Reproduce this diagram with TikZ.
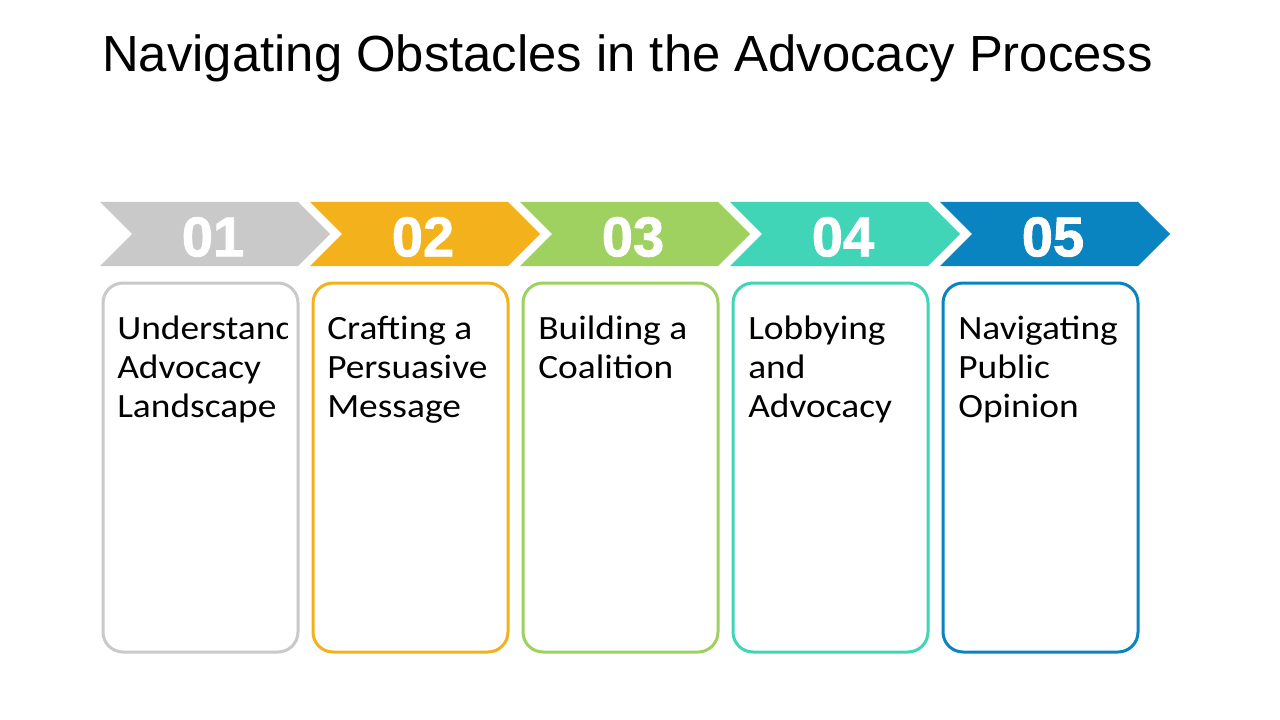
\documentclass[tikz,border=0pt]{standalone}
\usepackage{fontspec}
\setmainfont{Carlito}
\newfontfamily\boxfont[FakeStretch=1.1]{Carlito}
\newfontfamily\titlefont{Liberation Sans}
\newfontfamily\numfont[FakeBold=1.5]{Liberation Sans Bold}
\definecolor{cgray}{HTML}{C9C9C9}
\definecolor{cyellow}{HTML}{F3B11B}
\definecolor{cgreen}{HTML}{9ED160}
\definecolor{cteal}{HTML}{3FD5B6}
\definecolor{cblue}{HTML}{0A83C1}
\begin{document}
\begin{tikzpicture}[x=0.75pt,y=-0.75pt,
  numtext/.style={text=white, font=\numfont\fontsize{42}{42}\selectfont, inner sep=0pt},
  stepbox/.style={draw=#1, line width=3pt*0.75, rounded corners=15pt, fill=white},
  boxtext/.style={anchor=base west, align=left, inner sep=0pt, font=\boxfont\fontsize{25.5}{28.9}\selectfont}]
\useasboundingbox (0,0) rectangle (1280,720);
\fill[white] (0,0) rectangle (1280,720);
\node[anchor=base west, inner sep=0pt, font=\titlefont\fontsize{38.1}{40}\selectfont] (title) at (102,72) {Navigating Obstacles in the Advocacy Process};
% chevrons and boxes
\foreach \i/\c/\n in {0/cgray/01,1/cyellow/02,2/cgreen/03,3/cteal/04,4/cblue/05}{
  \pgfmathsetmacro{\L}{100+210*\i}
  \fill[\c] (\L,202) -- (\L+198,202) -- (\L+230,234) -- (\L+198,266) -- (\L,266) -- (\L+32,234) -- cycle;
  \node[numtext] (num\n) at (\L+113,237) {\n};
  \draw[stepbox=\c] (\L+3,283) rectangle (\L+198,652);
}
\begin{scope}
\clip (100,283) rectangle (287,652);
\node[boxtext] (t1) at (117,417) {Understanding\\Advocacy\\Landscape};
\end{scope}
\node[boxtext] (t2) at (327,417) {Crafting a\\Persuasive\\Message};
\node[boxtext] (t3) at (538,378.5) {Building a\\Coalition};
\node[boxtext] (t4) at (748,417) {Lobbying\\and\\Advocacy};
\node[boxtext] (t5) at (958,417) {Navigating\\Public\\Opinion};
\end{tikzpicture}
\end{document}
